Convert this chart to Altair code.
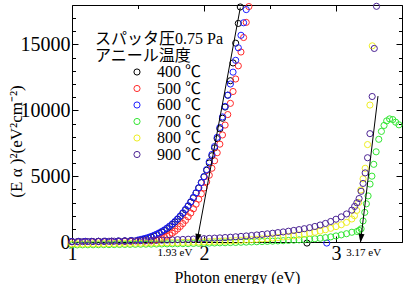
import altair as alt
import pandas as pd

FONT = "Liberation Serif, Noto Sans CJK JP"

series_labels = ["400 ℃", "500 ℃", "600 ℃", "700 ℃", "800 ℃", "900 ℃"]
series_colors = ["#000000", "#ff2a2a", "#1f1fff", "#33e633", "#eeee22", "#4b2394"]

# ---- 400 C (black)
e400 = [1.00, 1.05, 1.10, 1.15, 1.20, 1.25, 1.30, 1.35, 1.40, 1.45,
        1.50, 1.52, 1.54, 1.56, 1.58, 1.60, 1.62, 1.64, 1.66, 1.68,
        1.70, 1.72, 1.74, 1.76, 1.78, 1.80, 1.82, 1.84, 1.86, 1.88,
        1.90, 1.92, 1.94, 1.96, 1.98, 2.00, 2.02, 2.04, 2.06, 2.08,
        2.10, 2.12, 2.14, 2.16, 2.18, 2.20, 2.22, 2.24, 2.26, 2.275, 2.78]
v400 = [40, 40, 45, 45, 50, 55, 60, 70, 85, 100,
        120, 160, 200, 250, 310, 380, 460, 550, 650, 760,
        880, 1020, 1170, 1340, 1520, 1720, 1940, 2180, 2440, 2720,
        3030, 3360, 3720, 4100, 4510, 4950, 5450, 6000, 6550, 7150,
        7850, 8600, 9400, 10250, 11150, 12250, 13600, 15100, 16600, 17850, -80]

# ---- 500 C (red)
e500 = [1.00, 1.05, 1.10, 1.15, 1.20, 1.25, 1.30, 1.35, 1.40, 1.45, 1.50, 1.55,
        1.60, 1.62, 1.64, 1.66, 1.68, 1.70, 1.72, 1.74, 1.76, 1.78,
        1.80, 1.82, 1.84, 1.86, 1.88, 1.90, 1.92, 1.94, 1.96, 1.98,
        2.00, 2.02, 2.04, 2.06, 2.08, 2.10, 2.12, 2.14, 2.16, 2.18,
        2.20, 2.22, 2.24, 2.26, 2.28, 2.30, 2.32, 2.34]
v500 = [20, 20, 25, 25, 30, 30, 35, 40, 45, 50, 55, 65,
        80, 110, 150, 200, 260, 340, 430, 540, 670, 820,
        990, 1180, 1400, 1640, 1910, 2200, 2520, 2870, 3250, 3660,
        4100, 4570, 5070, 5600, 6170, 6780, 7430, 8130, 8880, 9680,
        10530, 11430, 12380, 13380, 14430, 15530, 16680, 17880]

# ---- 600 C (blue)
e600 = [1.00, 1.05, 1.10, 1.15, 1.20, 1.25, 1.30, 1.35, 1.40, 1.45,
        1.50, 1.52, 1.54, 1.56, 1.58, 1.60, 1.62, 1.64, 1.66, 1.68,
        1.70, 1.72, 1.74, 1.76, 1.78, 1.80, 1.82, 1.84, 1.86, 1.88,
        1.90, 1.92, 1.94, 1.96, 1.98, 2.00, 2.02, 2.04, 2.06, 2.08,
        2.10, 2.12, 2.14, 2.16, 2.18, 2.20, 2.22, 2.24, 2.26, 2.28,
        2.30, 2.32, 2.93]
v600 = [40, 40, 45, 45, 50, 55, 60, 70, 85, 110,
        150, 190, 240, 290, 350, 420, 500, 590, 690, 800,
        920, 1060, 1210, 1380, 1560, 1760, 1980, 2220, 2480, 2760,
        3060, 3390, 3740, 4120, 4520, 4970, 5500, 6100, 6650, 7250,
        7950, 8700, 9500, 10300, 11150, 12000, 12900, 13800, 14750, 15700,
        16650, 17650, -80]

# shared low-energy grid for 700/800/900 C
e_low = [1.00, 1.04, 1.08, 1.12, 1.16, 1.20, 1.24, 1.28, 1.32, 1.36,
         1.40, 1.44, 1.48, 1.52, 1.56, 1.60, 1.64, 1.68, 1.72, 1.76,
         1.80, 1.84, 1.88, 1.92, 1.96, 2.00, 2.04, 2.08, 2.12, 2.16,
         2.20, 2.24, 2.28, 2.32, 2.36, 2.40, 2.44, 2.48, 2.52, 2.56,
         2.60, 2.64, 2.68, 2.72, 2.76, 2.80, 2.84, 2.88, 2.92, 2.96,
         3.00, 3.04, 3.08, 3.12]

# ---- 700 C (green)
v700_low = [-220, -220, -215, -210, -210, -205, -200, -200, -195, -190,
            -185, -180, -175, -170, -165, -160, -155, -150, -145, -140,
            -130, -125, -120, -110, -100, -95, -85, -75, -65, -55,
            -45, -35, -20, -10, 5, 20, 35, 50, 65, 80,
            100, 120, 140, 160, 185, 210, 245, 280, 330, 390,
            460, 540, 630, 740]
e700_tail = [3.16, 3.175, 3.19, 3.205, 3.218, 3.23, 3.243, 3.258, 3.272, 3.286,
             3.304, 3.324, 3.344, 3.364, 3.384, 3.406, 3.43, 3.452, 3.477]
v700_tail = [800, 880, 1000, 1600, 2250, 2900, 3500, 4400, 5000, 5900,
             6850, 7800, 8400, 8850, 9200, 9350, 9300, 9100, 8900]

# ---- 800 C (yellow)
v800_low = [-150, -150, -145, -140, -135, -130, -125, -120, -115, -110,
            -105, -100, -95, -90, -80, -75, -70, -60, -55, -45,
            -40, -30, -20, -10, 0, 10, 25, 40, 55, 70,
            90, 110, 130, 155, 180, 205, 235, 265, 300, 340,
            380, 425, 475, 530, 590, 660, 740, 830, 930, 1040,
            1170, 1310, 1490, 1750]
e800_tail = [3.14, 3.157, 3.172, 3.188, 3.205, 3.221, 3.239, 3.257, 3.275]
v800_tail = [2000, 2400, 3000, 3950, 4800, 5600, 7400, 10400, 14900]

# ---- 900 C (purple)
v900_low = [20, 25, 30, 35, 40, 45, 50, 55, 60, 65,
            70, 80, 90, 100, 110, 120, 130, 140, 150, 165,
            180, 195, 210, 225, 240, 255, 275, 295, 315, 340,
            365, 395, 425, 460, 495, 535, 575, 620, 665, 715,
            765, 820, 880, 940, 1010, 1090, 1180, 1290, 1410, 1560,
            1730, 1910, 2130, 2420]
e900_tail = [3.141, 3.158, 3.175, 3.19, 3.205, 3.221, 3.239, 3.257, 3.274, 3.29, 3.307]
v900_tail = [2700, 2980, 3300, 3850, 4450, 5250, 6400, 8230, 11050, 14700, 17900]

# arrows (tangent lines) and their labels
arrow_x_start = [2.275, 3.318]
arrow_y_start = [17800, 11080]
arrow_x_tip = [1.945, 3.185]
arrow_y_tip = [-60, -60]
annot_text = ["1.93 eV", "3.17 eV"]
annot_x = [1.78, 3.21]
annot_y = [0, 0]

header_text = "スパッタ圧0.75 Pa\nアニール温度"
y_title = "(E α )²(eV²cm⁻²)"
x_title = "Photon energy (eV)"

x_major = [1, 2, 3]
x_minor = [1.5, 2.5, 3.5]
y_major = [0, 5000, 10000, 15000]
y_minor = [1000, 2000, 3000, 4000, 6000, 7000, 8000, 9000, 11000, 12000,
           13000, 14000, 16000, 17000]

# ---- build long table
energies = [e400, e500, e600, e_low + e700_tail, e_low + e800_tail, e_low + e900_tail]
values = [v400, v500, v600, v700_low + v700_tail, v800_low + v800_tail, v900_low + v900_tail]
frames = []
for lab, es, vs in zip(series_labels, energies, values):
    frames.append(pd.DataFrame({"series": lab, "energy": es, "value": vs}))
df = pd.concat(frames, ignore_index=True)

arrows = pd.DataFrame({"xs": arrow_x_start, "ys": arrow_y_start,
                       "xt": arrow_x_tip, "yt": arrow_y_tip})
annots = pd.DataFrame({"t": annot_text, "x": annot_x, "y": annot_y})
header = pd.DataFrame({"t": [header_text]})

x_scale = alt.Scale(domain=[1, 3.5], nice=False, zero=False)
y_scale = alt.Scale(domain=[0, 18000], nice=False, zero=False)


def tick_axis(orient, vals, length):
    return alt.Axis(orient=orient, values=vals, offset=-length, tickSize=length,
                    tickColor="black", tickWidth=1, labels=False, domain=False,
                    grid=False, title="")


points = alt.Chart(df).mark_point(
    shape="circle", filled=False, size=38, strokeWidth=1, opacity=1
).encode(
    x=alt.X("energy:Q", scale=x_scale,
            axis=alt.Axis(orient="bottom", values=x_major, offset=-6, tickSize=6,
                          tickColor="black", tickWidth=1, domain=False, grid=False,
                          labelFont=FONT, labelFontSize=20, labelColor="black",
                          labelPadding=1, labelFlush=False, labelOverlap=False,
                          title=x_title, titleFont=FONT, titleFontSize=16,
                          titleFontWeight="normal", titleColor="black",
                          titleBaseline="middle", titleY=41)),
    y=alt.Y("value:Q", scale=y_scale,
            axis=alt.Axis(orient="left", values=y_major, offset=-6, tickSize=6,
                          format="d",
                          tickColor="black", tickWidth=1, domain=False, grid=False,
                          labelFont=FONT, labelFontSize=20, labelColor="black",
                          labelPadding=2, labelFlush=False, labelOverlap=False,
                          title=y_title, titleFont=FONT, titleFontSize=17,
                          titleFontWeight="normal", titleColor="black",
                          titleAngle=270, titleAlign="center", titleBaseline="middle",
                          titleX=-62, titleY=136)),
    color=alt.Color("series:N",
                    scale=alt.Scale(domain=series_labels, range=series_colors),
                    legend=alt.Legend(title=None, orient="none", legendX=57, legendY=59,
                                      symbolType="circle", symbolSize=38,
                                      symbolStrokeWidth=1, labelFont=FONT,
                                      labelFontSize=16, labelColor="black",
                                      labelOffset=12, rowPadding=0.5, padding=0)),
)

rules = alt.Chart(arrows).mark_rule(color="black", strokeWidth=1).encode(
    x=alt.X("xs:Q", scale=x_scale, axis=tick_axis("bottom", x_minor, 3.5)),
    y=alt.Y("ys:Q", scale=y_scale, axis=tick_axis("left", y_minor, 3.5)),
    x2="xt:Q",
    y2="yt:Q",
)

head_shape = "M0,0L-0.6,-1.8L0.6,-1.8Z"
head1 = alt.Chart(arrows.iloc[[0]]).mark_point(
    shape=head_shape, filled=True, color="black", size=100, opacity=1, angle=10.5
).encode(
    x=alt.X("xt:Q", scale=x_scale, axis=tick_axis("top", x_major, 6)),
    y=alt.Y("yt:Q", scale=y_scale, axis=tick_axis("right", y_major, 6)),
)
head2 = alt.Chart(arrows.iloc[[1]]).mark_point(
    shape=head_shape, filled=True, color="black", size=100, opacity=1, angle=7
).encode(
    x=alt.X("xt:Q", scale=x_scale, axis=tick_axis("top", x_minor, 3.5)),
    y=alt.Y("yt:Q", scale=y_scale, axis=tick_axis("right", y_minor, 3.5)),
)

annot_layer = alt.Chart(annots).mark_text(
    font=FONT, fontSize=11, color="black", baseline="middle", align="center", dy=11
).encode(
    x=alt.X("x:Q", scale=x_scale, axis=None),
    y=alt.Y("y:Q", scale=y_scale, axis=None),
    text="t:N",
)

header_layer = alt.Chart(header).mark_text(
    font=FONT, fontSize=16, color="black", align="left", baseline="top",
    lineBreak="\n", lineHeight=16.5
).encode(
    x=alt.value(23),
    y=alt.value(26),
    text="t:N",
)

chart = alt.layer(
    points, rules, head1, head2, annot_layer, header_layer
).resolve_scale(
    x="shared", y="shared"
).resolve_axis(
    x="independent", y="independent"
).properties(
    width=330, height=237,
    autosize=alt.AutoSizeParams(type="none"),
    padding={"left": 72, "top": 5, "right": 10, "bottom": 42},
).configure_view(
    stroke="black", strokeWidth=1
)

chart.save("out.html", embed_options={"renderer": "svg", "actions": False})
